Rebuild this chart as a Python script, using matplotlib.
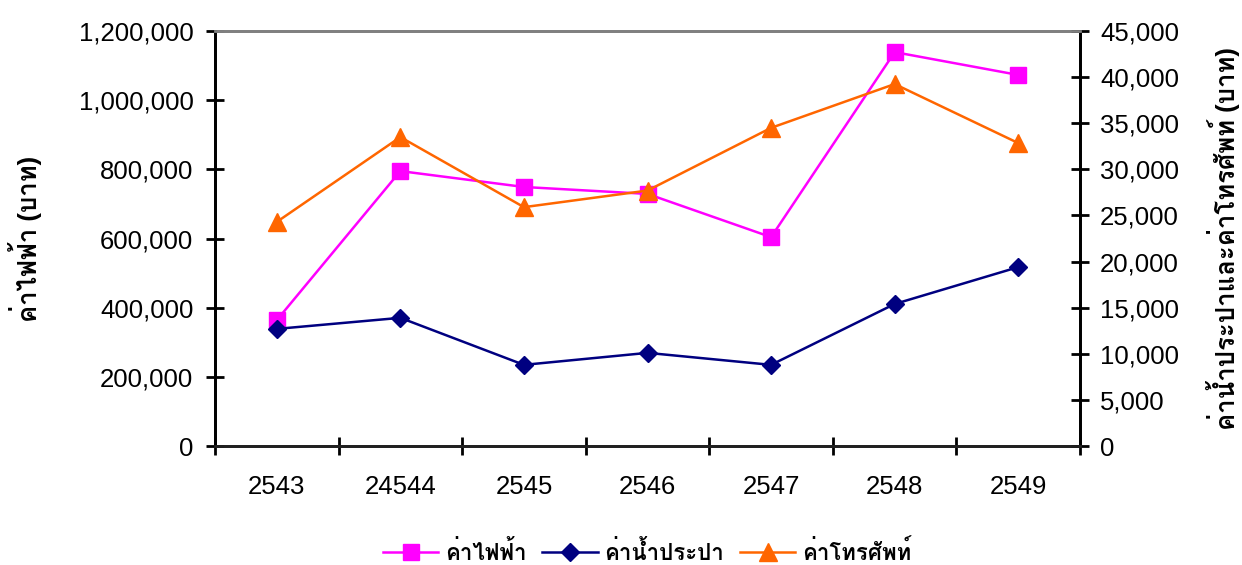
import numpy as np
import matplotlib
matplotlib.use('Agg')
from matplotlib import pyplot as plt
from matplotlib import font_manager
from matplotlib.ft2font import FT2Font
from matplotlib.ticker import FuncFormatter, FixedLocator

years = ['2543', '24544', '2545', '2546', '2547', '2548', '2549']
electric = [364000, 795000, 749000, 729000, 604000, 1139000, 1073000]
water = [12700, 13900, 8800, 10100, 8800, 15400, 19400]
phone = [24300, 33500, 25900, 27700, 34500, 39250, 32850]

left_label = 'ค่าไฟฟ้า (บาท)'
right_label = 'ค่าน้ำประปาและค่าโทรศัพท์ (บาท)'
series_names = ['ค่าไฟฟ้า', 'ค่าน้ำประปา', 'ค่าโทรศัพท์']

# look for installed fonts that have Thai glyphs (Loma first if present)
thai_fams = []
for f in font_manager.fontManager.ttflist:
    try:
        cm = FT2Font(f.fname).get_charmap()
    except Exception:
        continue
    if 0x0E04 in cm and f.name not in thai_fams:
        thai_fams.append(f.name)
if 'Loma' in thai_fams:
    thai_fams.remove('Loma')
    thai_fams.insert(0, 'Loma')

plt.rcParams['font.family'] = ['Liberation Sans'] + thai_fams + ['DejaVu Sans']

fig = plt.figure(figsize=(12.42, 5.65), dpi=100)
ax = fig.add_axes([0.1731, 0.2106, 0.6965, 0.7345])
ax2 = ax.twinx()

x = np.arange(len(years))
ax.plot(x, electric, color='#FF00FF', lw=1.8, marker='s', ms=11.5, label=series_names[0], zorder=3)
ax2.plot(x, water, color='#000080', lw=1.8, marker='D', ms=9, label=series_names[1])
ax2.plot(x, phone, color='#FF6600', lw=1.8, marker='^', ms=13, label=series_names[2])

ax.set_xlim(-0.5, len(years) - 0.5)
ax.set_ylim(0, 1200000)
ax2.set_ylim(0, 45000)
ax.set_yticks(np.arange(0, 1200001, 200000))
ax2.set_yticks(np.arange(0, 45001, 5000))
fmt = FuncFormatter(lambda v, p: '{:,.0f}'.format(v))
ax.yaxis.set_major_formatter(fmt)
ax2.yaxis.set_major_formatter(fmt)

ax.set_xticks(x)
ax.set_xticklabels(years)
ax.xaxis.set_minor_locator(FixedLocator(np.arange(-0.5, len(years), 1.0)))
ax.tick_params(axis='x', which='major', length=0, pad=21, labelsize=18.5)
ax.tick_params(axis='x', which='minor', direction='inout', length=13, width=2)
ax.tick_params(axis='y', direction='inout', length=13, width=2, pad=9, labelsize=18.5)
ax2.tick_params(axis='y', direction='inout', length=13, width=2, pad=8, labelsize=18.5)

for a in (ax, ax2):
    a.spines['top'].set_color('#808080')
    a.spines['top'].set_linewidth(2)
    a.spines['left'].set_linewidth(2)
    a.spines['right'].set_linewidth(2)
    a.spines['bottom'].set_linewidth(2)
    a.spines['bottom'].set_color('#202020')

ax.set_ylabel(left_label, fontsize=18.5, fontweight='bold')
ax2.set_ylabel(right_label, fontsize=18.5, fontweight='bold')
ax.yaxis.set_label_coords(-0.2, 0.5)
ax2.yaxis.set_label_coords(1.146, 0.5)

h1, l1 = ax.get_legend_handles_labels()
h2, l2 = ax2.get_legend_handles_labels()
fig.legend(h1 + h2, l1 + l2, loc='center', bbox_to_anchor=(0.521, 0.022), ncol=3,
           frameon=False, prop={'size': 16, 'weight': 'bold'}, handlelength=2.5,
           columnspacing=0.7, handletextpad=0.3)

plt.savefig('out.png', dpi=100)
